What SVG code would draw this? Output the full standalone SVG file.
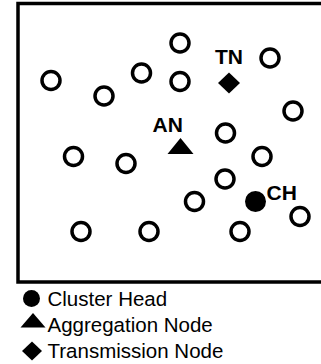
<svg xmlns="http://www.w3.org/2000/svg" width="321" height="364" viewBox="0 0 321 364">
  <style>
    .frame { fill: none; stroke: #000; stroke-width: 3.5; }
    .sensor { fill: none; stroke: #000; stroke-width: 3.5; }
    .solid { fill: #000; stroke: none; }
    .tag { font-family: "Liberation Sans", Arial, sans-serif; font-size: 21px; font-weight: bold; fill: #000; }
    .legend { font-family: "Liberation Sans", Arial, sans-serif; font-size: 20.5px; fill: #000; }
  </style>
  <defs>
    <circle id="sn" r="9" class="sensor"/>
  </defs>
  <rect width="321" height="364" fill="#fff"/>

  <!-- field boundary -->
  <rect class="frame" x="18" y="3.5" width="305" height="278.5"/>

  <!-- ordinary sensor nodes -->
  <g id="sensors">
    <use href="#sn" x="180" y="43"/>
    <use href="#sn" x="51" y="80.5"/>
    <use href="#sn" x="104" y="96"/>
    <use href="#sn" x="141.5" y="73"/>
    <use href="#sn" x="180" y="81.5"/>
    <use href="#sn" x="270" y="58"/>
    <use href="#sn" x="293" y="111"/>
    <use href="#sn" x="225.5" y="133"/>
    <use href="#sn" x="73.5" y="156.5"/>
    <use href="#sn" x="126" y="163.5"/>
    <use href="#sn" x="262" y="156.5"/>
    <use href="#sn" x="225" y="179"/>
    <use href="#sn" x="194.5" y="201.5"/>
    <use href="#sn" x="300" y="216.5"/>
    <use href="#sn" x="81" y="231.5"/>
    <use href="#sn" x="149" y="231.5"/>
    <use href="#sn" x="240" y="231.5"/>
  </g>

  <!-- transmission node -->
  <g id="tn">
    <polygon class="solid" points="229,72.5 240,83 229,93.5 218,83"/>
    <text class="tag" x="215" y="64">TN</text>
  </g>

  <!-- aggregation node -->
  <g id="an">
    <polygon class="solid" points="180.5,138 193.5,154 167.5,154"/>
    <text class="tag" x="152.5" y="131.5">AN</text>
  </g>

  <!-- cluster head -->
  <g id="ch">
    <circle class="solid" cx="255.5" cy="201.5" r="10.5"/>
    <text class="tag" x="266.5" y="200">CH</text>
  </g>

  <!-- legend -->
  <g id="legend">
    <circle class="solid" cx="31.5" cy="298.5" r="8.5"/>
    <text class="legend" x="47.5" y="306">Cluster Head</text>
    <polygon class="solid" points="33,313 45.5,327.5 20.5,327.5"/>
    <text class="legend" x="47.5" y="332">Aggregation Node</text>
    <polygon class="solid" points="32,341.5 42,351 32,360.5 22,351"/>
    <text class="legend" x="47.5" y="358">Transmission Node</text>
  </g>
</svg>
